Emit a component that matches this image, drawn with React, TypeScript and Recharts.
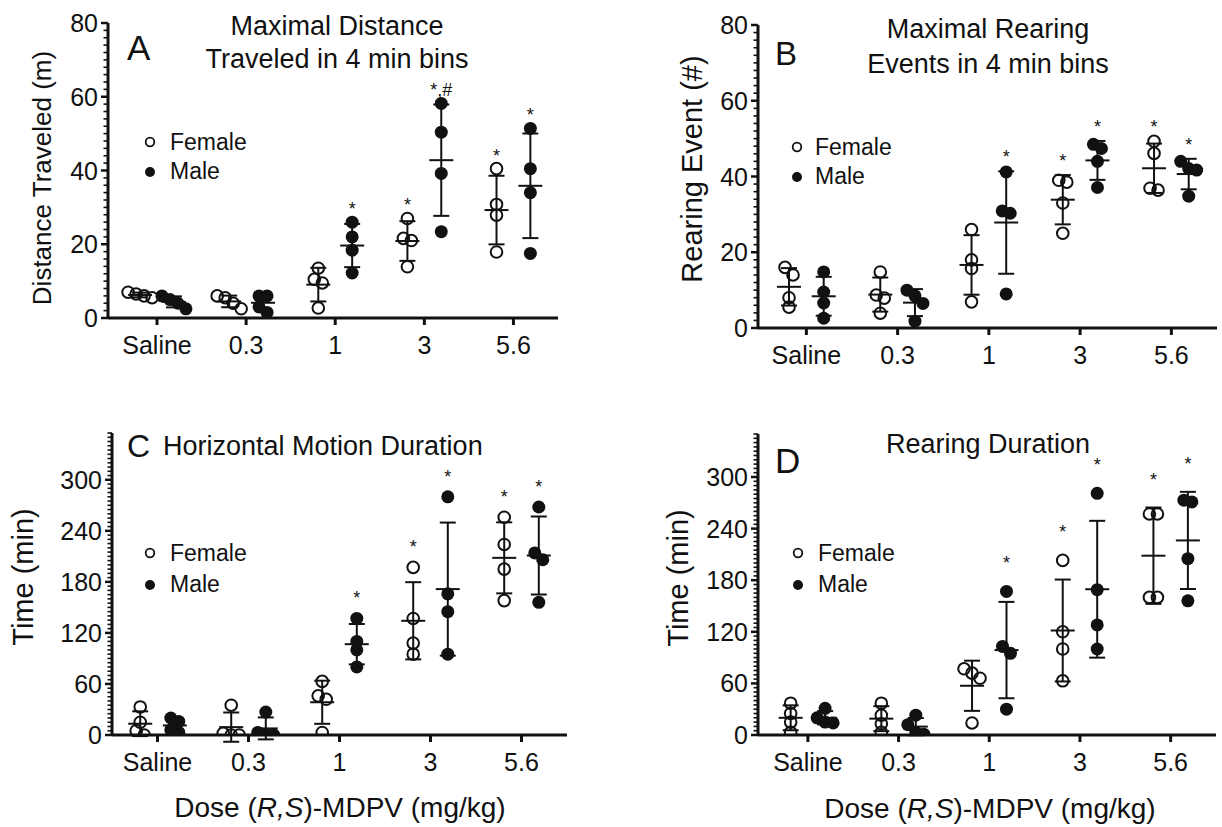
import React from 'react';
import { ScatterChart, Scatter, XAxis, YAxis, ErrorBar } from 'recharts';

// dose groups on the x axis
const doses = ['Saline', '0.3', '1', '3', '5.6'];

// A: maximal distance traveled (m), 4 animals per group
const distFemale = [[7, 6.5, 6, 5.5], [6, 5.5, 4, 2.5], [13.5, 10.5, 9.5, 2.7], [27, 21.6, 21, 13.9], [40.5, 30.8, 27.9, 17.9]];
const distMale = [[6, 5, 4, 2.5], [6, 6, 3, 1.5], [26, 22, 18.4, 12.2], [58.2, 50.4, 39.2, 23.4], [51.4, 40.5, 34, 17.5]];
const distFemaleSig = ['', '', '', '*', '*'];
const distMaleSig = ['', '', '*', '*,#', '*'];

// B: maximal rearing events (#)
const rearFemale = [[16, 14, 8, 5.5], [14.8, 8.7, 7.9, 3.9], [26, 18, 15.7, 6.9], [39, 38.5, 33, 25], [49.3, 46.1, 36.9, 36.4]];
const rearMale = [[14.8, 9.5, 6.6, 2.6], [10, 8.5, 6.5, 1.8], [41.2, 30.9, 30.3, 9], [48.5, 47.4, 44, 37.1], [44, 42.1, 41.7, 34.8]];
const rearFemaleSig = ['', '', '', '*', '*'];
const rearMaleSig = ['', '', '*', '*', '*'];

// C: horizontal motion duration (min)
const horizFemale = [[33, 15, 5, 0], [35, 2, 0, 0], [63, 46, 42, 3], [197, 137, 108, 95], [256, 224, 195, 158]];
const horizMale = [[20, 16, 6, 3], [27, 3, 1, 0], [137, 110, 100, 80], [280, 166, 145, 95], [268, 214, 206, 156]];
const horizFemaleSig = ['', '', '', '*', '*'];
const horizMaleSig = ['', '', '*', '*', '*'];

// D: rearing duration (min)
const rdurFemale = [[37, 25, 15, 3], [37, 23, 13, 3], [77, 72, 66, 14], [203, 120, 100, 63], [257, 257, 160, 160]];
const rdurMale = [[31, 20, 15, 14], [23, 12, 3, 1], [167, 103, 95, 30], [281, 169, 128, 100], [273, 271, 205, 156]];
const rdurFemaleSig = ['', '', '', '*', '*'];
const rdurMaleSig = ['', '', '*', '*', '*'];

const countTicks = [0, 20, 40, 60, 80];
const timeTicks = [0, 60, 120, 180, 240, 300];

const W = 1222;
const H = 827;
const FONT = '"Liberation Sans", Arial, Helvetica, sans-serif';
const INK = '#111';
const Y_AXIS_W = 100;
const X_AXIS_H = 60;
const SIDE = 0.19;

type Panel = {
  female: number[][];
  male: number[][];
  femaleSig: string[];
  maleSig: string[];
  majorTicks: number[];
  minorStep: number;
  yMax: number;
  left: number;
  top: number;
  right: number;
  bottom: number;
  xDomain: [number, number];
  starGap: number;
};

const panels: Panel[] = [
  { female: distFemale, male: distMale, femaleSig: distFemaleSig, maleSig: distMaleSig, majorTicks: countTicks, minorStep: 2, yMax: 80,
    left: 108, top: 23, right: 558, bottom: 318, xDomain: [-0.55, 4.5], starGap: 17 },
  { female: rearFemale, male: rearMale, femaleSig: rearFemaleSig, maleSig: rearMaleSig, majorTicks: countTicks, minorStep: 2, yMax: 80,
    left: 758, top: 25, right: 1217, bottom: 328, xDomain: [-0.53, 4.5], starGap: 18 },
  { female: horizFemale, male: horizMale, femaleSig: horizFemaleSig, maleSig: horizMaleSig, majorTicks: timeTicks, minorStep: 5, yMax: 355,
    left: 112, top: 433, right: 567, bottom: 735, xDomain: [-0.5, 4.5], starGap: 24 },
  { female: rdurFemale, male: rdurMale, femaleSig: rdurFemaleSig, maleSig: rdurMaleSig, majorTicks: timeTicks, minorStep: 5, yMax: 350,
    left: 758, top: 434, right: 1216, bottom: 735, xDomain: [-0.55, 4.5], starGap: 32 },
];

const mean = (a: number[]) => a.reduce((s, v) => s + v, 0) / a.length;
const sd = (a: number[]) => {
  const m = mean(a);
  return Math.sqrt(a.reduce((s, v) => s + (v - m) ** 2, 0) / (a.length - 1));
};

// spread points that would sit on top of each other (like a scatter dot plot does)
function spreadPx(vals: number[], pxPerY: number): number[] {
  const order = vals.map((_, i) => i).sort((a, b) => vals[b] - vals[a]);
  const offs = new Array(vals.length).fill(0);
  let cluster = [order[0]];
  const flush = () => {
    const n = cluster.length;
    cluster.forEach((k, j) => (offs[k] = (j - (n - 1) / 2) * 8));
  };
  for (let j = 1; j < order.length; j++) {
    if ((vals[order[j - 1]] - vals[order[j]]) * pxPerY < 8) cluster.push(order[j]);
    else {
      flush();
      cluster = [order[j]];
    }
  }
  flush();
  return offs;
}

function pointsFor(groups: number[][], side: number, p: Panel) {
  const pxY = (p.bottom - p.top) / p.yMax;
  const pxX = (p.right - p.left) / (p.xDomain[1] - p.xDomain[0]);
  return groups.flatMap((vals, i) => {
    const offs = spreadPx(vals, pxY);
    return vals.map((v, k) => ({ x: i + side * SIDE + offs[k] / pxX, y: v }));
  });
}

function summaryFor(groups: number[][], side: number) {
  return groups.map((vals, i) => ({ x: i + side * SIDE, y: mean(vals), sd: sd(vals) }));
}

function starsFor(groups: number[][], sig: string[], side: number) {
  return groups
    .map((vals, i) => ({ x: i + side * SIDE, y: Math.max(...vals, mean(vals) + sd(vals)), label: sig[i] }))
    .filter((d) => d.label);
}

function PanelChart({ p }: { p: Panel }) {
  const minor: number[] = [];
  for (let v = 0; v <= p.yMax + 1e-6; v += p.minorStep) minor.push(v);

  const yTick = (props: any) => {
    const { y, payload } = props;
    const v = payload.value;
    const major = p.majorTicks.includes(v);
    return (
      <g>
        <line
          x1={p.left - (major ? 7 : 4.5)}
          x2={p.left}
          y1={y}
          y2={y}
          stroke={INK}
          strokeWidth={major ? 2.5 : 1.6}
        />
        {major && (
          <text x={p.left - 10} y={y} dy="0.36em" textAnchor="end" fontSize={25} fontFamily={FONT} fill={INK}>
            {v}
          </text>
        )}
      </g>
    );
  };

  const openDot = (props: any) => (
    <circle cx={props.cx} cy={props.cy} r={5.8} fill="none" stroke={INK} strokeWidth={2} />
  );
  const fullDot = (props: any) => <circle cx={props.cx} cy={props.cy} r={6.5} fill={INK} />;
  const meanLine = (props: any) => (
    <line x1={props.cx - 12} x2={props.cx + 12} y1={props.cy} y2={props.cy} stroke={INK} strokeWidth={2} />
  );
  const star = (props: any) => (
    <text x={props.cx} y={props.cy - p.starGap + 10} textAnchor="middle" fontSize={18} fontFamily={FONT} fill={INK}>
      {props.payload.label}
    </text>
  );

  return (
    <div style={{ position: 'absolute', left: 0, top: 0 }}>
      <ScatterChart
        width={W}
        height={H}
        margin={{ top: p.top, left: p.left - Y_AXIS_W, right: W - p.right, bottom: H - p.bottom - X_AXIS_H }}
      >
        <XAxis
          type="number"
          dataKey="x"
          domain={p.xDomain}
          ticks={[0, 1, 2, 3, 4]}
          interval={0}
          allowDataOverflow
          tickFormatter={(v) => doses[v]}
          tickSize={7}
          tickMargin={11}
          height={X_AXIS_H}
          axisLine={{ stroke: INK, strokeWidth: 3 }}
          tickLine={{ stroke: INK, strokeWidth: 3 }}
          tick={{ fontSize: 25, fill: INK, fontFamily: FONT }}
        />
        <YAxis
          type="number"
          dataKey="y"
          domain={[0, p.yMax]}
          ticks={minor}
          interval={0}
          allowDataOverflow
          width={Y_AXIS_W}
          tick={yTick}
          tickLine={false}
          axisLine={{ stroke: INK, strokeWidth: 3 }}
        />
        <Scatter data={summaryFor(p.female, -1)} shape={meanLine} isAnimationActive={false}>
          <ErrorBar dataKey="sd" direction="y" width={8} stroke={INK} strokeWidth={2} isAnimationActive={false} />
        </Scatter>
        <Scatter data={summaryFor(p.male, 1)} shape={meanLine} isAnimationActive={false}>
          <ErrorBar dataKey="sd" direction="y" width={8} stroke={INK} strokeWidth={2} isAnimationActive={false} />
        </Scatter>
        <Scatter data={pointsFor(p.female, -1, p)} shape={openDot} isAnimationActive={false} />
        <Scatter data={pointsFor(p.male, 1, p)} shape={fullDot} isAnimationActive={false} />
        <Scatter data={starsFor(p.female, p.femaleSig, -1)} shape={star} isAnimationActive={false} />
        <Scatter data={starsFor(p.male, p.maleSig, 1)} shape={star} isAnimationActive={false} />
      </ScatterChart>
    </div>
  );
}

function Legend({ mx, fy, my, tx }: { mx: number; fy: number; my: number; tx: number }) {
  return (
    <g fontFamily={FONT} fontSize={23} fill={INK}>
      <circle cx={mx} cy={fy} r={4.3} fill="none" stroke={INK} strokeWidth={1.8} />
      <text x={tx} y={fy + 8}>Female</text>
      <circle cx={mx} cy={my} r={5} fill={INK} />
      <text x={tx} y={my + 7}>Male</text>
    </g>
  );
}

function DoseLabel({ x, y }: { x: number; y: number }) {
  return (
    <text x={x} y={y} textAnchor="middle" fontFamily={FONT} fontSize={28} fill={INK}>
      Dose (<tspan fontStyle="italic">R,S</tspan>)-MDPV (mg/kg)
    </text>
  );
}

function YTitle({ x, y, size, children }: { x: number; y: number; size: number; children: React.ReactNode }) {
  return (
    <text
      x={x}
      y={y}
      transform={`rotate(-90 ${x} ${y})`}
      textAnchor="middle"
      dominantBaseline="central"
      fontFamily={FONT}
      fontSize={size}
      fill={INK}
    >
      {children}
    </text>
  );
}

export default function App() {
  return (
    <div style={{ position: 'absolute', left: 0, top: 0, width: W, height: H, background: '#fff', overflow: 'hidden' }}>
      {panels.map((p, i) => (
        <PanelChart key={i} p={p} />
      ))}
      <svg width={W} height={H} style={{ position: 'absolute', left: 0, top: 0, pointerEvents: 'none' }}>
        <g fontFamily={FONT} fill={INK}>
          {/* panel letters */}
          <text x={127} y={60} fontSize={35}>A</text>
          <text x={775} y={65} fontSize={33}>B</text>
          <text x={127} y={457} fontSize={32}>C</text>
          <text x={775} y={473} fontSize={35}>D</text>

          {/* titles */}
          <text x={337} y={35} fontSize={27} textAnchor="middle">Maximal Distance</text>
          <text x={337} y={68} fontSize={27} textAnchor="middle">Traveled in 4 min bins</text>
          <text x={988} y={38} fontSize={27} textAnchor="middle">Maximal Rearing</text>
          <text x={988} y={73} fontSize={27} textAnchor="middle">Events in 4 min bins</text>
          <text x={163} y={455} fontSize={27}>Horizontal Motion Duration</text>
          <text x={988} y={453} fontSize={27} textAnchor="middle">Rearing Duration</text>
        </g>

        <Legend mx={150} fy={142} my={172} tx={170} />
        <Legend mx={797} fy={147} my={177} tx={815} />
        <Legend mx={150} fy={553} my={585} tx={170} />
        <Legend mx={798} fy={553} my={585} tx={818} />

        <YTitle x={42} y={178} size={26}>Distance Traveled (m)</YTitle>
        <YTitle x={692} y={169} size={29}>Rearing Event (#)</YTitle>
        <YTitle x={23} y={577} size={29}>Time (min)</YTitle>
        <YTitle x={678} y={578} size={29}>Time (min)</YTitle>

        <DoseLabel x={340} y={817} />
        <DoseLabel x={990} y={818} />
      </svg>
    </div>
  );
}
